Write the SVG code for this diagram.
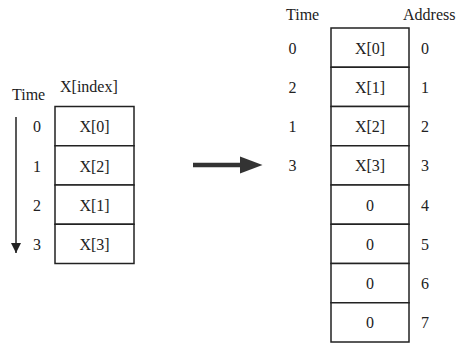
<svg xmlns="http://www.w3.org/2000/svg" width="456" height="343" viewBox="0 0 456 343">
  <style>
    .c { text-anchor: middle; }
    .cell { fill: #fff; stroke: #222; stroke-width: 1.5; }
  </style>
  <defs>
    <marker id="tip" viewBox="0 0 10 10" refX="10" refY="5" markerWidth="12" markerHeight="10" markerUnits="userSpaceOnUse" orient="auto">
      <path d="M0,0 L10,5 L0,10 Z" fill="#222"/>
    </marker>
  </defs>
  <rect width="456" height="343" fill="#fff"/>

  <g font-family="'Liberation Serif', 'DejaVu Serif', serif" font-size="16" fill="#222">
  <!-- Access order (left table) -->
  <g id="access-order">
    <text x="12" y="100">Time</text>
    <text x="60" y="92">X[index]</text>
    <rect class="cell" x="55" y="106.5" width="79" height="39.25"/>
    <rect class="cell" x="55" y="145.75" width="79" height="39.25"/>
    <rect class="cell" x="55" y="185" width="79" height="39.25"/>
    <rect class="cell" x="55" y="224.25" width="79" height="39.25"/>
    <text class="c" x="94.5" y="132">X[0]</text>
    <text class="c" x="94.5" y="171.5">X[2]</text>
    <text class="c" x="94.5" y="210.5">X[1]</text>
    <text class="c" x="94.5" y="250">X[3]</text>
    <text class="c" x="37" y="132">0</text>
    <text class="c" x="37" y="171.5">1</text>
    <text class="c" x="37" y="210.5">2</text>
    <text class="c" x="37" y="250">3</text>
  </g>

  <!-- Memory layout (right table) -->
  <g id="memory-layout">
    <text x="286" y="20">Time</text>
    <text x="403" y="20">Address</text>
    <rect class="cell" x="331" y="28" width="78" height="39.25"/>
    <rect class="cell" x="331" y="67.25" width="78" height="39.25"/>
    <rect class="cell" x="331" y="106.5" width="78" height="39.25"/>
    <rect class="cell" x="331" y="145.75" width="78" height="39.25"/>
    <rect class="cell" x="331" y="185" width="78" height="39.25"/>
    <rect class="cell" x="331" y="224.25" width="78" height="39.25"/>
    <rect class="cell" x="331" y="263.5" width="78" height="39.25"/>
    <rect class="cell" x="331" y="302.75" width="78" height="39.25"/>
    <text class="c" x="370" y="53.5">X[0]</text>
    <text class="c" x="370" y="92.75">X[1]</text>
    <text class="c" x="370" y="132">X[2]</text>
    <text class="c" x="370" y="171.25">X[3]</text>
    <text class="c" x="370" y="210.5">0</text>
    <text class="c" x="370" y="249.75">0</text>
    <text class="c" x="370" y="289">0</text>
    <text class="c" x="370" y="328.25">0</text>
    <text class="c" x="292.5" y="53.5">0</text>
    <text class="c" x="292.5" y="92.75">2</text>
    <text class="c" x="292.5" y="132">1</text>
    <text class="c" x="292.5" y="171.25">3</text>
    <text class="c" x="425" y="53.5">0</text>
    <text class="c" x="425" y="92.75">1</text>
    <text class="c" x="425" y="132">2</text>
    <text class="c" x="425" y="171.25">3</text>
    <text class="c" x="425" y="210.5">4</text>
    <text class="c" x="425" y="249.75">5</text>
    <text class="c" x="425" y="289">6</text>
    <text class="c" x="425" y="328.25">7</text>
  </g>
  </g>

  <!-- Connectors -->
  <g id="connectors">
    <line x1="16" y1="117" x2="16" y2="253" stroke="#222" stroke-width="1.5" marker-end="url(#tip)"/>
    <line x1="193" y1="165" x2="243" y2="165" stroke="#333" stroke-width="4.5"/>
    <path d="M240,156.5 L262.5,165 L240,173.5 Z" fill="#333"/>
  </g>
</svg>
